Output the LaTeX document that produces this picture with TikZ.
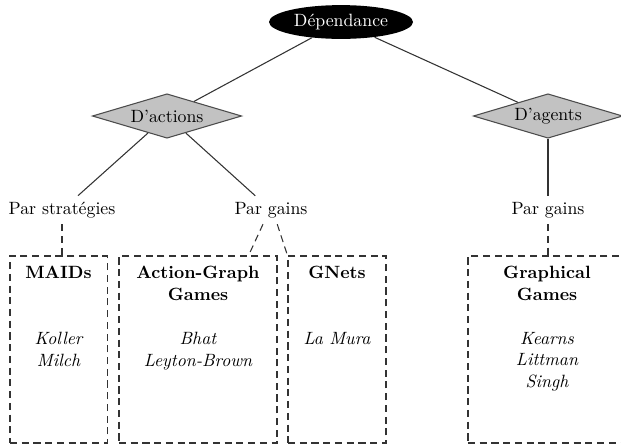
\documentclass[tikz,border=0pt]{standalone}
\usepackage{fontspec}
\usetikzlibrary{shapes.geometric}
\tikzset{
  conn/.style={draw=black!80, line width=0.6pt},
  dconn/.style={draw=black!80, line width=0.6pt, dash pattern=on 4pt off 2.6pt},
  rootnode/.style={ellipse, fill=black, text=white, minimum width=81pt, minimum height=19pt, inner sep=1pt},
  choice/.style={diamond, aspect=3.4, fill=black!24, draw=black!70, line width=0.6pt, minimum width=84pt, minimum height=25pt, inner sep=0pt},
  kind/.style={inner sep=3.33pt},
  family/.style={rectangle, draw=black!80, line width=0.6pt, dash pattern=on 4pt off 2.6pt},
  ttl/.style={anchor=north, align=center, inner sep=0pt, font=\bfseries},
  who/.style={anchor=north, align=center, inner sep=0pt, font=\itshape}
}
\begin{document}
\begin{tikzpicture}[x=0.5625pt, y=-0.5625pt]
\clip (0,0) rectangle (621,445);
\node[rootnode] (dep) at (341,22) {Dépendance};
\node[choice] (dact) at (167,116) {D'actions};
\node[choice] (dag) at (548,116) {D'agents};
\node[kind] (pstrat) at (62,210) {Par stratégies};
\node[kind] (pg1) at (271,210) {Par gains};
\node[kind] (pg2) at (548,210) {Par gains};

\node[family, minimum width=54.6pt, minimum height=105.2pt] (maids) at (58.5,349.5) {};
\node[family, minimum width=88.9pt, minimum height=105.2pt] (agg) at (198,349.5) {};
\node[family, minimum width=55.1pt, minimum height=105.2pt] (gnets) at (337,349.5) {};
\node[family, minimum width=88.9pt, minimum height=105.2pt] (gg) at (547,349.5) {};

\node[ttl] (t1) at (58.5,266) {MAIDs};
\node[ttl] (t2) at (198,266) {Action-Graph\\Games};
\node[ttl] (t3) at (337,266) {GNets};
\node[ttl] (t4) at (547,266) {Graphical\\Games};

\node[who] (w1) at (58.5,332) {Koller\\Milch};
\node[who] (w2) at (198,332) {Bhat\\Leyton-Brown};
\node[who] (w3) at (337,332) {La Mura};
\node[who] (w4) at (547,332) {Kearns\\Littman\\Singh};

\draw[conn] (dep) -- (dact);
\draw[conn] (dep) -- (dag);
\draw[conn] (dact) -- (pstrat);
\draw[conn] (dact) -- (pg1);
\draw[conn] (dag) -- (pg2);

\draw[dconn] (pstrat.south) -- (pstrat.south |- maids.north);
\draw[dconn] ([xshift=-4.5pt]pg1.south) -- ([xshift=-16.3pt]agg.north east);
\draw[dconn] ([xshift=3.5pt]pg1.south) -- (gnets.north west);
\draw[dconn] (pg2.south) -- (pg2.south |- gg.north);
\end{tikzpicture}
\end{document}
